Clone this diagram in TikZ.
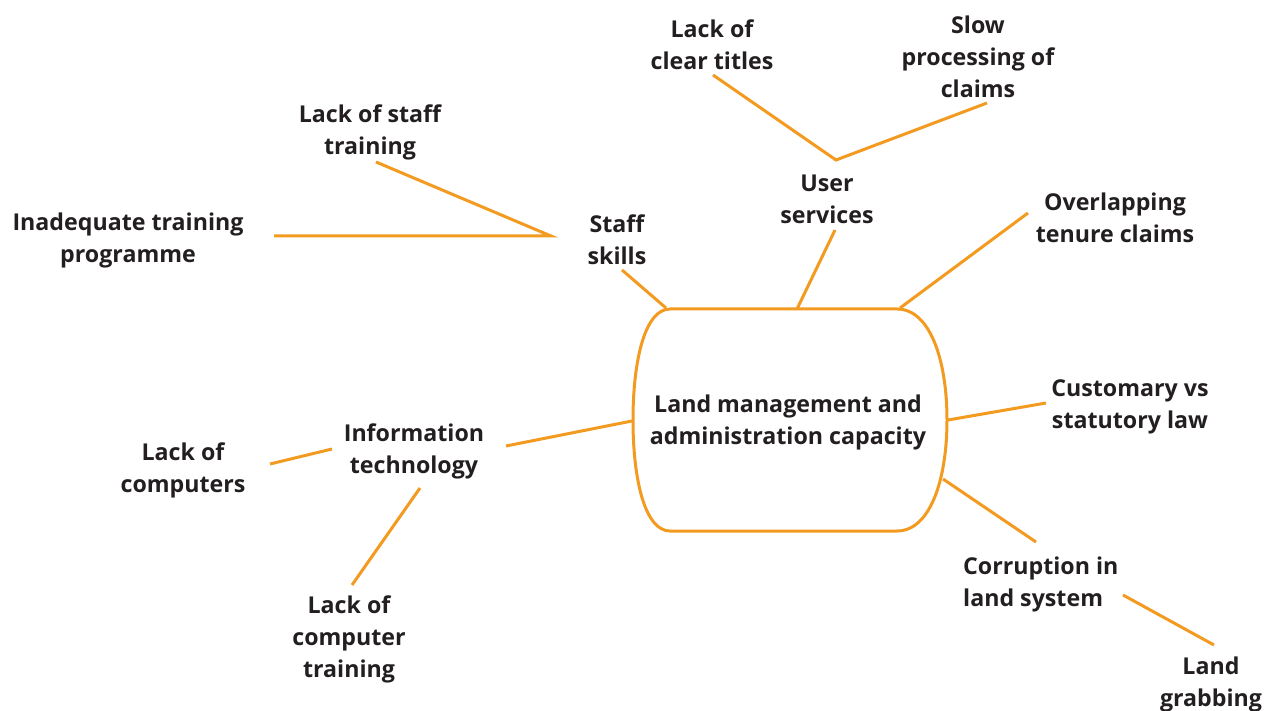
\documentclass[tikz,border=0pt]{standalone}
\usepackage{fontspec}
\setmainfont{Open Sans}[BoldFont={Open Sans Bold}]
\definecolor{lineorange}{RGB}{243,154,32}
\definecolor{txt}{RGB}{35,31,32}
\begin{document}
\begin{tikzpicture}[x=1pt,y=-1pt,
  lbl/.style={align=center,inner sep=0pt,yshift=-2pt,text=txt,font=\bfseries\fontsize{23.2}{32}\selectfont},
  lbll/.style={lbl,align=left},
  conn/.style={draw=lineorange,line width=3pt},
  hub/.style={draw=lineorange,line width=3pt,fill=white}]
\useasboundingbox (0,0) rectangle (1272,711);
% central shape
\path[hub] (670,309) -- (897,309) .. controls (930,309) and (947,360) .. (947,420)
  .. controls (947,480) and (930,531) .. (897,531) -- (670,531)
  .. controls (645,531) and (633,480) .. (633,420)
  .. controls (633,360) and (645,309) .. (670,309) -- cycle;
\node[lbl] (core) at (788,420) {Land management and\\administration capacity};
% labels
\node[lbl] (titles) at (712,43) {Lack of\\clear titles};
\node[lbl] (slow) at (978,55) {Slow\\processing of\\claims};
\node[lbl] (user) at (827,197) {User\\services};
\node[lbl] (stafftr) at (370,130) {Lack of staff\\training};
\node[lbl] (inad) at (128,238) {Inadequate training\\programme};
\node[lbl] (staff) at (617,238) {Staff\\skills};
\node[lbl] (overlap) at (1115,216) {Overlapping\\tenure claims};
\node[lbl] (custom) at (1130,405) {Customary vs\\statutory law};
\node[lbl] (it) at (414,449) {Information\\technology};
\node[lbl] (comp) at (183,468) {Lack of\\computers};
\node[lbl] (comptr) at (349,637) {Lack of\\computer\\training};
\node[lbll,anchor=west] (corr) at (963,582) {Corruption in\\land system};
\node[lbl] (grab) at (1211,682) {Land\\grabbing};
% connector end points
\coordinate (pTitles) at (713,75);
\coordinate (pSlow) at (987,103);
\coordinate (pUserTop) at (836,160);
\coordinate (pUserBot) at (835,230);
\coordinate (pCoreTop) at (797,309);
\coordinate (pStaffTr) at (376,162);
\coordinate (pInad) at (274,236);
\coordinate (pStaffJ) at (551,236);
\coordinate (pStaffBot) at (622,270);
\coordinate (pCoreTL) at (666,308);
\coordinate (pOverlap) at (1028,213);
\coordinate (pCoreTR) at (900,308);
\coordinate (pCustom) at (1046,403);
\coordinate (pCoreR) at (948,420);
\coordinate (pCoreL) at (632,421);
\coordinate (pItR) at (506,446);
\coordinate (pItL) at (332,449);
\coordinate (pComp) at (270,464);
\coordinate (pItB) at (420,488);
\coordinate (pCompTr) at (352,585);
\coordinate (pCoreBR) at (943,479);
\coordinate (pCorrTop) at (1036,542);
\coordinate (pCorrR) at (1123,595);
\coordinate (pGrab) at (1214,645);
% connectors
\draw[conn] (pTitles) -- (pUserTop) -- (pSlow);
\draw[conn] (pUserBot) -- (pCoreTop);
\draw[conn] (pStaffTr) -- (pStaffJ) -- (pInad);
\draw[conn] (pStaffBot) -- (pCoreTL);
\draw[conn] (pOverlap) -- (pCoreTR);
\draw[conn] (pCustom) -- (pCoreR);
\draw[conn] (pCoreL) -- (pItR);
\draw[conn] (pItL) -- (pComp);
\draw[conn] (pItB) -- (pCompTr);
\draw[conn] (pCoreBR) -- (pCorrTop);
\draw[conn] (pCorrR) -- (pGrab);
\end{tikzpicture}
\end{document}
